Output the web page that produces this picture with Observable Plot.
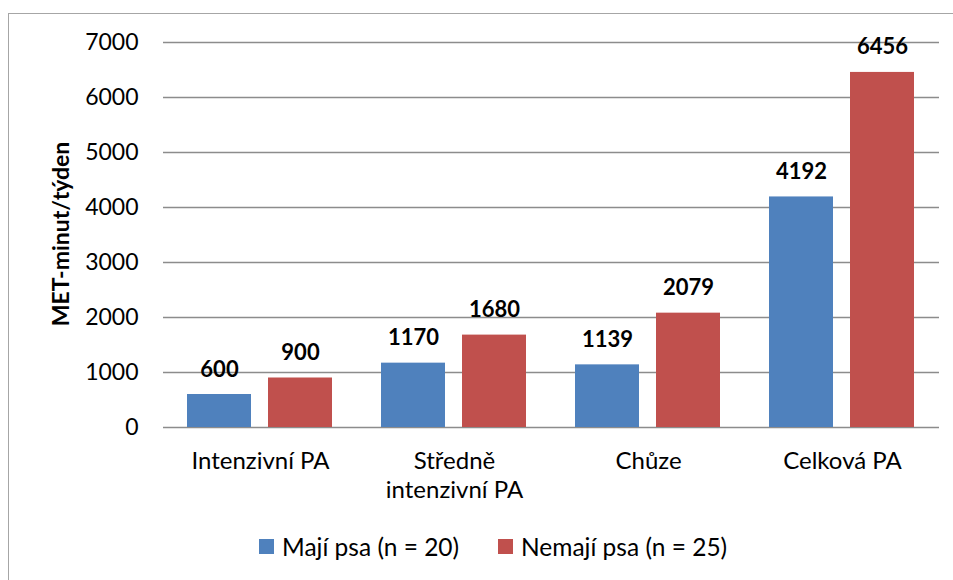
<!DOCTYPE html>
<html>
<head>
<meta charset="utf-8">
<script src="https://cdn.jsdelivr.net/npm/d3@7"></script>
<script src="https://cdn.jsdelivr.net/npm/@observablehq/plot@0.6"></script>
<style>
  html, body { margin: 0; padding: 0; background: #fff; }
  body { font-family: Lato, "Open Sans", sans-serif; }
  #wrap { position: relative; width: 953px; height: 580px; overflow: hidden; background: #fff; }
  #frame { position: absolute; left: 8px; top: 13px; width: 1000px; height: 700px; border: 1.5px solid #a6a6a6; box-sizing: border-box; }
  #chart { position: absolute; left: 0; top: 0; }
  #ytitle { position: absolute; left: 60px; top: 234px; transform: translate(-50%, -50%) rotate(-90deg); font-weight: bold; font-size: 23px; white-space: nowrap; color: #000; }
  .leg { position: absolute; top: 532px; display: flex; align-items: center; font-size: 24.5px; color: #000; white-space: nowrap; }
  .sw { width: 15px; height: 15px; margin-right: 8px; }
</style>
</head>
<body>
<div id="wrap">
  <div id="frame"></div>
  <div id="chart"></div>
  <div id="ytitle"></div>
  <div id="legend"></div>
</div>
<script>
const categories = ["Intenzivní PA", "Středně\nintenzivní PA", "Chůze", "Celková PA"];
const series = ["Mají psa (n = 20)", "Nemají psa (n = 25)"];
const majiPsa = [600, 1170, 1139, 4192];
const nemajiPsa = [900, 1680, 2079, 6456];
const yTicks = [0, 1000, 2000, 3000, 4000, 5000, 6000, 7000];
const colors = ["#4F81BD", "#C0504D"];
const yTitle = "MET-minut/týden";

const data = categories.flatMap((c, i) => [
  {cat: c, series: series[0], value: majiPsa[i]},
  {cat: c, series: series[1], value: nemajiPsa[i]}
]);

const chart = Plot.plot({
  width: 953,
  height: 515,
  marginTop: 42,
  marginBottom: 88,
  marginLeft: 161,
  marginRight: 13,
  style: {fontFamily: "Lato, 'Open Sans', sans-serif", background: "transparent", color: "#000"},
  fx: {domain: categories, padding: 0, label: null, axis: null},
  x: {domain: series, paddingInner: 0.207, paddingOuter: 0.291, axis: null},
  y: {domain: [0, 7000], label: null},
  color: {domain: series, range: colors},
  marks: [
    Plot.ruleY(yTicks, {stroke: "#8c8c8c", strokeWidth: 1.5}),
    Plot.barY(data, {fx: "cat", x: "series", y: "value", fill: "series"}),
    Plot.text(data, {fx: "cat", x: "series", y: "value", text: d => String(d.value), dy: -25, fontWeight: "bold", fontSize: 22, fill: "#000"}),
    Plot.axisY({ticks: yTicks, tickSize: 0, tickPadding: 25, fontSize: 23, label: null, tickFormat: d => String(d)}),
    Plot.axisFx({anchor: "bottom", tickSize: 0, tickPadding: 22, fontSize: 24, label: null, lineHeight: 1.17})
  ]
});
document.getElementById("chart").appendChild(chart);
document.getElementById("ytitle").textContent = yTitle;

const legend = document.getElementById("legend");
const legLeft = [259, 498];
series.forEach((s, i) => {
  const item = document.createElement("div");
  item.className = "leg";
  item.style.left = legLeft[i] + "px";
  const sw = document.createElement("div");
  sw.className = "sw";
  sw.style.background = colors[i];
  const t = document.createElement("span");
  t.textContent = s;
  item.appendChild(sw);
  item.appendChild(t);
  legend.appendChild(item);
});
</script>
</body>
</html>
